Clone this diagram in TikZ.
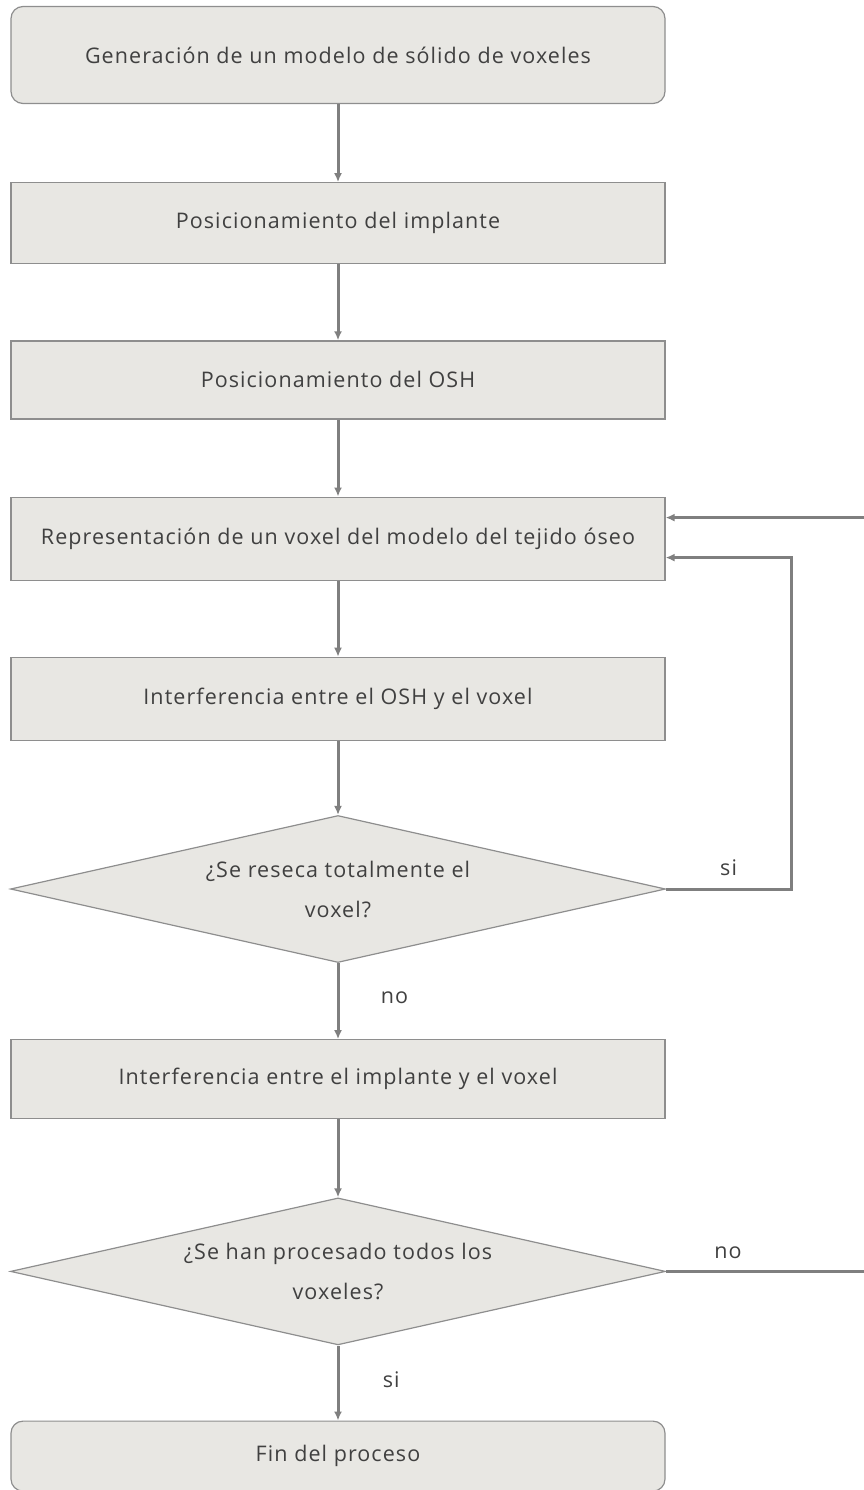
\documentclass[tikz,border=0pt]{standalone}
\usepackage{fontspec}
\setmainfont{Open Sans}[LetterSpace=5]
\usetikzlibrary{positioning,arrows.meta,shapes.geometric}
\definecolor{boxfill}{HTML}{E8E7E3}
\definecolor{boxline}{HTML}{8E8E8E}
\definecolor{arrline}{HTML}{7F7F7F}
\definecolor{txtgrey}{HTML}{404040}

\begin{document}
\begin{tikzpicture}[
    x=1pt, y=-1pt,
    node distance=77pt,
    every node/.style={font=\fontsize{21.5}{25}\selectfont, text=txtgrey},
    box/.style={draw=boxline, fill=boxfill, line width=1.2pt, minimum width=654pt, minimum height=81pt, inner sep=0pt, align=center},
    term/.style={box, rounded corners=12pt},
    decision/.style={diamond, aspect=4.46, draw=boxline, fill=boxfill, line width=1.2pt, minimum width=655pt, minimum height=147pt, inner sep=0pt, align=center, font=\fontsize{21.5}{40}\selectfont},
    arr/.style={-{Latex[length=9pt, width=8pt]}, draw=arrline, line width=3pt},
    lbl/.style={font=\fontsize{21.5}{25}\selectfont}
]
\useasboundingbox (0,0) rectangle (863,1490);

\node[term, minimum height=97pt] (gen) at (338,55) {Generación de un modelo de sólido de voxeles};
\node[box, below=78pt of gen] (impl) {Posicionamiento del implante};
\node[box, below=76pt of impl, minimum height=78pt] (osh) {Posicionamiento del OSH};
\node[box, below=77pt of osh, minimum height=83pt] (repr) {Representación de un voxel del modelo del tejido óseo};
\node[box, below=76pt of repr, minimum height=83pt] (inter1) {Interferencia entre el OSH y el voxel};
\node[decision, below=74pt of inter1] (resec) {¿Se reseca totalmente el\\voxel?};
\node[box, below=76pt of resec, minimum height=79pt] (inter2) {Interferencia entre el implante y el voxel};
\node[decision, below=78pt of inter2] (proc) {¿Se han procesado todos los\\voxeles?};
\node[term, below=75pt of proc, minimum height=70pt] (fin) {Fin del proceso};

% salidas de los bucles
\coordinate (siturn) at ([xshift=125pt]resec.east);
\coordinate (noturn) at ([xshift=200pt]proc.east);

\draw[arr] (gen) -- (impl);
\draw[arr] (impl) -- (osh);
\draw[arr] (osh) -- (repr);
\draw[arr] (repr) -- (inter1);
\draw[arr] (inter1) -- (resec);
\draw[arr] (resec) -- node[lbl, right=38pt, pos=0.45] (lno) {no} (inter2);
\draw[arr] (inter2) -- (proc);
\draw[arr] (proc) -- node[lbl, right=40pt, pos=0.45] (lsi) {si} (fin);

\draw[arr] (resec.east) -- node[lbl, above=8pt, pos=0.5] (lsi2) {si} (siturn) |- ([yshift=-19pt]repr.east);
\draw[arr] (proc.east) -- node[lbl, above=8pt, pos=0.31] (lno2) {no} (noturn) |- ([yshift=21pt]repr.east);
\end{tikzpicture}
\end{document}
